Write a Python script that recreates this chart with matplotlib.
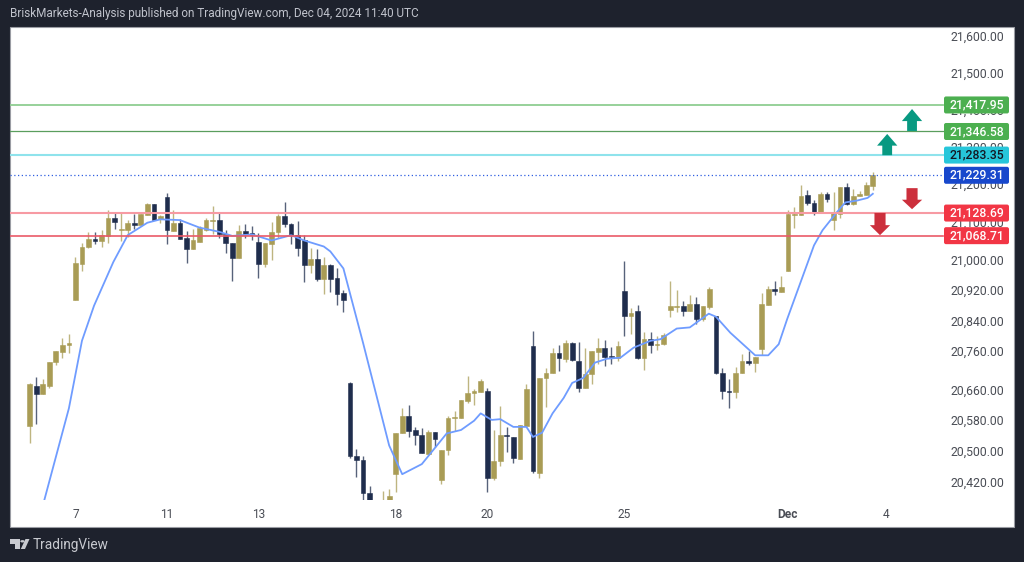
import matplotlib
matplotlib.use('Agg')
import matplotlib.pyplot as plt
from matplotlib.patches import Polygon, Rectangle, Circle, FancyBboxPatch
from matplotlib.ticker import NullLocator
from matplotlib.transforms import IdentityTransform, ScaledTranslation

plt.rcParams['font.family'] = ['Roboto', 'DejaVu Sans']

# candles
opens = [20566, 20671, 20648, 20671, 20732, 20758, 20778, 20895, 20990, 21034,
         21057, 21050, 21064, 21111, 21080, 21081, 21099, 21092, 21120, 21148,
         21108, 21167, 21078, 21098, 21059, 21029, 21049, 21081, 21103, 21106,
         21070, 21046, 21006, 21078, 21071, 21049, 20989, 21042, 21074, 21116,
         21095, 21066, 21052, 20987, 21002, 20951, 20987, 20953, 20912, 20677,
         20488, 20479, 20394, 20375, 20372, 20374, 20442, 20549, 20593, 20556,
         20544, 20495, 20552, 20427, 20505, 20587, 20587, 20630, 20652, 20655,
         20658, 20431, 20476, 20542, 20539, 20481, 20566, 20775, 20445, 20691,
         20704, 20756, 20741, 20783, 20736, 20665, 20700, 20759, 20769, 20747,
         20743, 20918, 20854, 20866, 20744, 20793, 20777, 20779, 20869, 20877,
         20878, 20866, 20884, 20845, 20876, 20852, 20704, 20657, 20654, 20703,
         20734, 20730, 20767, 20882, 20925, 20917, 20970, 21119, 21120, 21174,
         21152, 21126, 21176, 21105, 21123, 21194, 21149, 21169, 21174, 21198]
highs = [20678, 20694, 20687, 20733, 20760, 20794, 20807, 21009, 21046, 21075,
         21075, 21079, 21132, 21127, 21125, 21106, 21122, 21122, 21151, 21150,
         21120, 21178, 21132, 21109, 21078, 21083, 21090, 21111, 21143, 21125,
         21081, 21046, 21092, 21096, 21091, 21073, 21044, 21102, 21122, 21153,
         21099, 21103, 21066, 21031, 21029, 21007, 20989, 20978, 20920, 20681,
         20506, 20490, 20411, 20376, 20398, 20403, 20549, 20613, 20620, 20565,
         20561, 20556, 20552, 20505, 20591, 20604, 20634, 20695, 20663, 20687,
         20665, 20556, 20617, 20564, 20539, 20568, 20674, 20814, 20691, 20718,
         20769, 20777, 20791, 20785, 20785, 20770, 20760, 20796, 20790, 20773,
         20788, 20997, 20873, 20883, 20810, 20812, 20801, 20808, 20944, 20920,
         20891, 20908, 20904, 20878, 20930, 20853, 20717, 20689, 20720, 20754,
         20761, 20745, 20912, 20932, 20944, 20957, 21134, 21140, 21200, 21187,
         21160, 21180, 21181, 21180, 21194, 21204, 21188, 21184, 21207, 21233]
lows = [20522, 20571, 20648, 20664, 20726, 20742, 20757, 20895, 20972, 21032,
        21043, 21034, 21044, 21083, 21050, 21060, 21083, 21092, 21120, 21105,
        21099, 21043, 21077, 21055, 20992, 21029, 21048, 21076, 21068, 21059,
        21018, 20946, 21006, 21058, 21053, 20953, 20982, 21000, 21059, 21088,
        21042, 21011, 20941, 20967, 20945, 20910, 20917, 20881, 20864, 20484,
        20435, 20376, 20373, 20370, 20365, 20370, 20396, 20549, 20538, 20516,
        20497, 20492, 20512, 20417, 20492, 20554, 20586, 20627, 20620, 20654,
        20396, 20428, 20463, 20499, 20472, 20481, 20566, 20444, 20433, 20615,
        20704, 20709, 20733, 20734, 20654, 20665, 20674, 20727, 20722, 20727,
        20735, 20801, 20807, 20741, 20712, 20757, 20763, 20777, 20851, 20864,
        20853, 20866, 20832, 20840, 20871, 20702, 20636, 20612, 20639, 20703,
        20724, 20706, 20752, 20882, 20908, 20917, 20970, 21084, 21120, 21145,
        21120, 21125, 21154, 21081, 21112, 21145, 21146, 21169, 21174, 21185]
closes = [20674, 20648, 20674, 20733, 20760, 20777, 20781, 20992, 21036, 21057,
          21051, 21066, 21111, 21100, 21083, 21099, 21093, 21122, 21148, 21107,
          21117, 21079, 21098, 21057, 21029, 21052, 21084, 21106, 21107, 21068,
          21044, 21006, 21078, 21068, 21067, 20990, 21044, 21075, 21116, 21095,
          21066, 21032, 20987, 21002, 20951, 20987, 20951, 20910, 20895, 20489,
          20479, 20393, 20375, 20373, 20377, 20386, 20549, 20593, 20553, 20542,
          20497, 20552, 20533, 20505, 20586, 20590, 20633, 20653, 20658, 20682,
          20431, 20477, 20542, 20541, 20484, 20568, 20663, 20450, 20691, 20705,
          20757, 20742, 20783, 20737, 20665, 20702, 20760, 20769, 20745, 20745,
          20775, 20854, 20862, 20744, 20793, 20777, 20780, 20803, 20878, 20879,
          20866, 20884, 20845, 20878, 20923, 20703, 20657, 20654, 20704, 20736,
          20731, 20745, 20884, 20925, 20918, 20930, 21121, 21121, 21171, 21151,
          21125, 21176, 21161, 21125, 21194, 21148, 21171, 21176, 21200, 21225]

# moving average vertices (bar number, price)
ma_bars = [2.2, 6, 8, 9.85, 12.8, 15, 18, 20, 23, 26, 29, 31, 34, 37, 40, 42, 45, 46, 48,
           51, 55, 57, 60, 63.8, 66, 68, 69, 70.7, 72, 74, 76, 77, 78.4, 80, 81.7, 83,
           84.7, 86.5, 88.3, 90.4, 92.4, 95, 96.5, 99, 101, 103.9, 105, 107.2, 111, 113,
           114.6, 115.9, 120, 121.3, 123.5, 124.8, 126.6, 128.2, 129]
ma_vals = [20373, 20612, 20788, 20880, 20995, 21066, 21099, 21108, 21106, 21086, 21075,
           21064, 21068, 21052, 21066, 21052, 21036, 21023, 20978, 20783, 20516, 20442,
           20468, 20547, 20556, 20580, 20599, 20582, 20584, 20564, 20564, 20538, 20549,
           20599, 20639, 20678, 20691, 20731, 20741, 20744, 20770, 20788, 20792, 20820,
           20823, 20859, 20851, 20809, 20750, 20750, 20779, 20845, 21039, 21079, 21127,
           21153, 21158, 21165, 21176]

# my readings above come out a few points low against the labelled levels
read_offset = 4

level_vals = [21417.95, 21346.58, 21283.35, 21229.31, 21128.69, 21068.71]
level_labels = ['21,417.95', '21,346.58', '21,283.35', '21,229.31', '21,128.69', '21,068.71']
level_colors = ['#8fce92', '#5a9e5e', '#8fe3ec', '#2f5fe0', '#f79aa3', '#ea5a68']
level_widths = [1.3, 0.9, 1.5, 0.9, 1.5, 1.2]
level_styles = ['-', '-', '-', (0, (1, 2)), '-', '-']
box_colors = ['#4caf50', '#4caf50', '#26c6da', '#1848cc', '#f23645', '#f23645']
box_text = ['white', 'white', '#131722', 'white', 'white', 'white']

price_ticks = [21600, 21500, 21400, 21300, 21200, 21100, 21000, 20920, 20840, 20760, 20660, 20580, 20500, 20420]
date_bars = [7, 21, 35, 56, 70, 91, 116, 131]
date_labels = ['7', '11', '13', '18', '20', '25', 'Dec', '4']

# arrows: bar number, base price, tip price
up_arrows = [(135, 21348, 21407), (131.2, 21283, 21340)]
down_arrows = [(135, 21195, 21139), (130.1, 21129, 21070)]

W, H = 1024, 562
BG = '#1e222d'
GOLD = '#a99c55'
NAVY = '#1f2d4d'

fig = plt.figure(figsize=(W / 100, H / 100), dpi=100, facecolor=BG)

# white pane incl. the date strip
fig.add_artist(Rectangle((10 / W, 1 - 527 / H), 1004 / W, 500 / H, transform=fig.transFigure,
                         facecolor='white', edgecolor='#9a9ca3', linewidth=0.8, zorder=-1))

ax = fig.add_axes([10 / W, 1 - 499.5 / H, 1004 / W, 472.5 / H])
ax.patch.set_alpha(0)
ax.set_yscale('log')
ax.set_xlim(-3.01, 150.6)
ax.set_ylim(20381, 21629)
for s in ax.spines.values():
    s.set_visible(False)

o = [v + read_offset for v in opens]
h = [v + read_offset for v in highs]
l = [v + read_offset for v in lows]
c = [v + read_offset for v in closes]
bars = list(range(len(o)))
colors = [GOLD if a >= b else NAVY for a, b in zip(c, o)]
ax.vlines(bars, l, h, colors=colors, linewidth=1.0, alpha=0.75, zorder=2)
ax.bar(bars, [abs(a - b) for a, b in zip(c, o)], bottom=[min(a, b) for a, b in zip(c, o)],
       width=0.72, color=colors, edgecolor=colors, linewidth=0.4, zorder=3)
ax.plot(ma_bars, [v + read_offset for v in ma_vals], color='#6f9cff', linewidth=1.3, zorder=4)

right_bar = (943 - 29.7) / 6.535
for val, col, lw, ls in zip(level_vals, level_colors, level_widths, level_styles):
    ax.plot([-3.01, right_bar], [val, val], color=col, linewidth=lw, linestyle=ls, zorder=4)

for b, base, tip in up_arrows:
    ax.add_patch(Polygon([(b - 0.75, base), (b + 0.75, base), (b + 0.75, base + (tip - base) * 0.45),
                          (b + 1.55, base + (tip - base) * 0.45), (b, tip), (b - 1.55, base + (tip - base) * 0.45),
                          (b - 0.75, base + (tip - base) * 0.45)], facecolor='#089981', edgecolor='none', zorder=5))
for b, base, tip in down_arrows:
    ax.add_patch(Polygon([(b - 0.85, base), (b + 0.85, base), (b + 0.85, base + (tip - base) * 0.55),
                          (b + 1.55, base + (tip - base) * 0.55), (b, tip), (b - 1.55, base + (tip - base) * 0.55),
                          (b - 0.85, base + (tip - base) * 0.55)], facecolor='#cc2f3c', edgecolor='none', zorder=5))

# price scale
ax.yaxis.tick_right()
ax.yaxis.set_minor_locator(NullLocator())
ax.set_yticks(price_ticks)
ax.set_yticklabels([f'{p:,.2f}' for p in price_ticks], fontsize=8.8, color='#4a4d55', ha='right')
ax.tick_params(axis='y', length=0, pad=-7)
ax.set_xticks(date_bars)
ax.set_xticklabels(date_labels, fontsize=8.6, color='#4a4d55')
ax.tick_params(axis='x', length=0, pad=6)
ax.get_xticklabels()[6].set_fontweight('bold')

# tick labels sit a little higher in the reference
nudge = ScaledTranslation(0, 1.5 / 72, fig.dpi_scale_trans)
for lab in ax.get_yticklabels():
    lab.set_transform(lab.get_transform() + nudge)

# last value boxes
box_x = (976.5 - 10) / 1004
for val, lab, bc, tc in zip(level_vals, level_labels, box_colors, box_text):
    y_px = ax.transData.transform((0, val))[1]
    ax.add_artist(FancyBboxPatch((944, y_px - 8.5), 65, 17, boxstyle='round,pad=0,rounding_size=2',
                                 transform=IdentityTransform(), facecolor=bc, edgecolor='none',
                                 zorder=5.5, clip_on=False))
    ax.text(box_x, val, lab, transform=ax.get_yaxis_transform(), ha='center', va='center',
            fontsize=8.8, fontweight='medium', color=tc, zorder=6)

fig.text(10 / W, 1 - 14 / H, 'BriskMarkets-Analysis published on TradingView.com, Dec 04, 2024 11:40 UTC',
         fontsize=8.5, color='#c0c3cc', va='center', ha='left')

# footer logo
logo = '#c8cad0'
fig.add_artist(Polygon([(10 / W, 1 - 539 / H), (20 / W, 1 - 539 / H), (20 / W, 1 - 549 / H), (15 / W, 1 - 549 / H),
                        (15 / W, 1 - 544 / H), (10 / W, 1 - 544 / H)], transform=fig.transFigure, facecolor=logo, edgecolor='none'))
fig.add_artist(Circle((22.5 / W, 1 - 541.3 / H), 2.2 / W, transform=fig.transFigure, facecolor=logo, edgecolor='none'))
fig.add_artist(Polygon([(25.5 / W, 1 - 539 / H), (29.5 / W, 1 - 539 / H), (25 / W, 1 - 549 / H), (20.8 / W, 1 - 549 / H)],
                       transform=fig.transFigure, facecolor=logo, edgecolor='none'))
fig.text(33 / W, 1 - 545 / H, 'TradingView', fontsize=9.8, color='#c8cad0', va='center', ha='left')

fig.savefig('out.png', dpi=100, facecolor=BG)
